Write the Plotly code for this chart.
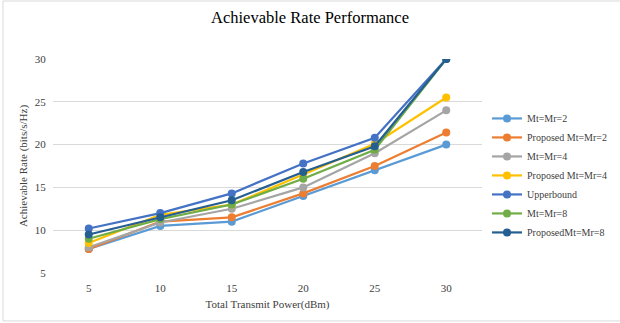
import plotly.graph_objects as go

x_labels = ["5", "10", "15", "20", "25", "30"]
mt2 = [7.8, 10.5, 11.0, 14.0, 17.0, 20.0]
prop2 = [7.8, 11.0, 11.5, 14.3, 17.5, 21.4]
mt4 = [8.0, 10.9, 12.5, 15.0, 19.0, 24.0]
prop4 = [8.5, 11.8, 13.0, 16.5, 20.1, 25.5]
upper = [10.2, 12.0, 14.3, 17.8, 20.8, 30.0]
mt8 = [9.0, 11.3, 13.0, 16.0, 19.4, 30.0]
prop8 = [9.5, 11.5, 13.5, 16.8, 19.8, 30.0]

series = [
    ("Mt=Mr=2", mt2, "#5B9BD5"),
    ("Proposed Mt=Mr=2", prop2, "#ED7D31"),
    ("Mt=Mr=4", mt4, "#A5A5A5"),
    ("Proposed Mt=Mr=4", prop4, "#FFC000"),
    ("Upperbound", upper, "#4472C4"),
    ("Mt=Mr=8", mt8, "#70AD47"),
    ("ProposedMt=Mr=8", prop8, "#255E91"),
]

fig = go.Figure()
for name, vals, col in series:
    fig.add_trace(go.Scatter(
        x=x_labels, y=vals, name=name, mode="lines+markers",
        line=dict(color=col, width=2.2),
        marker=dict(color=col, size=8),
    ))

FONT = "Liberation Serif, Times New Roman, serif"
fig.update_layout(
    width=620, height=323,
    margin=dict(l=53, r=138, t=59, b=50, autoexpand=False),
    paper_bgcolor="white", plot_bgcolor="white",
    font=dict(family=FONT, size=11, color="#404040"),
    title=dict(text="Achievable Rate Performance", x=0.5, xanchor="center",
               xref="container", yref="container",
               y=1 - 17 / 323, yanchor="middle",
               font=dict(family=FONT, size=16.5, color="#000000")),
    showlegend=True,
    legend=dict(x=1.0117, y=0.79, xanchor="left", yanchor="top",
                font=dict(family=FONT, size=10, color="#404040"),
                bgcolor="rgba(0,0,0,0)", tracegroupgap=0, itemwidth=30),
    xaxis=dict(type="category", range=[-0.5, 5.5],
               showgrid=False, zeroline=False, showline=False,
               automargin=False,
               ticks="outside", ticklen=5, tickcolor="rgba(0,0,0,0)",
               tickfont=dict(size=11, color="#404040"),
               title=dict(text="Total Transmit Power(dBm)", standoff=7,
                          font=dict(size=11, color="#404040"))),
    yaxis=dict(range=[5, 30], tickvals=[5, 10, 15, 20, 25, 30],
               automargin=False,
               showgrid=True, gridcolor="#D9D9D9", gridwidth=1,
               zeroline=False, showline=False,
               ticks="outside", ticklen=4, tickcolor="rgba(0,0,0,0)",
               tickfont=dict(size=11, color="#404040"),
               title=dict(text="Achievable Rate (bits/s/Hz)", standoff=4,
                          font=dict(size=11, color="#404040"))),
    shapes=[dict(type="rect", xref="paper", yref="paper",
                 x0=-0.1166, x1=1.324, y0=-0.224, y1=1.271,
                 line=dict(color="#D9D9D9", width=1), layer="below")],
)

fig.write_html("out.html", config={"displayModeBar": False},
               post_script="document.body.style.margin='0';")
